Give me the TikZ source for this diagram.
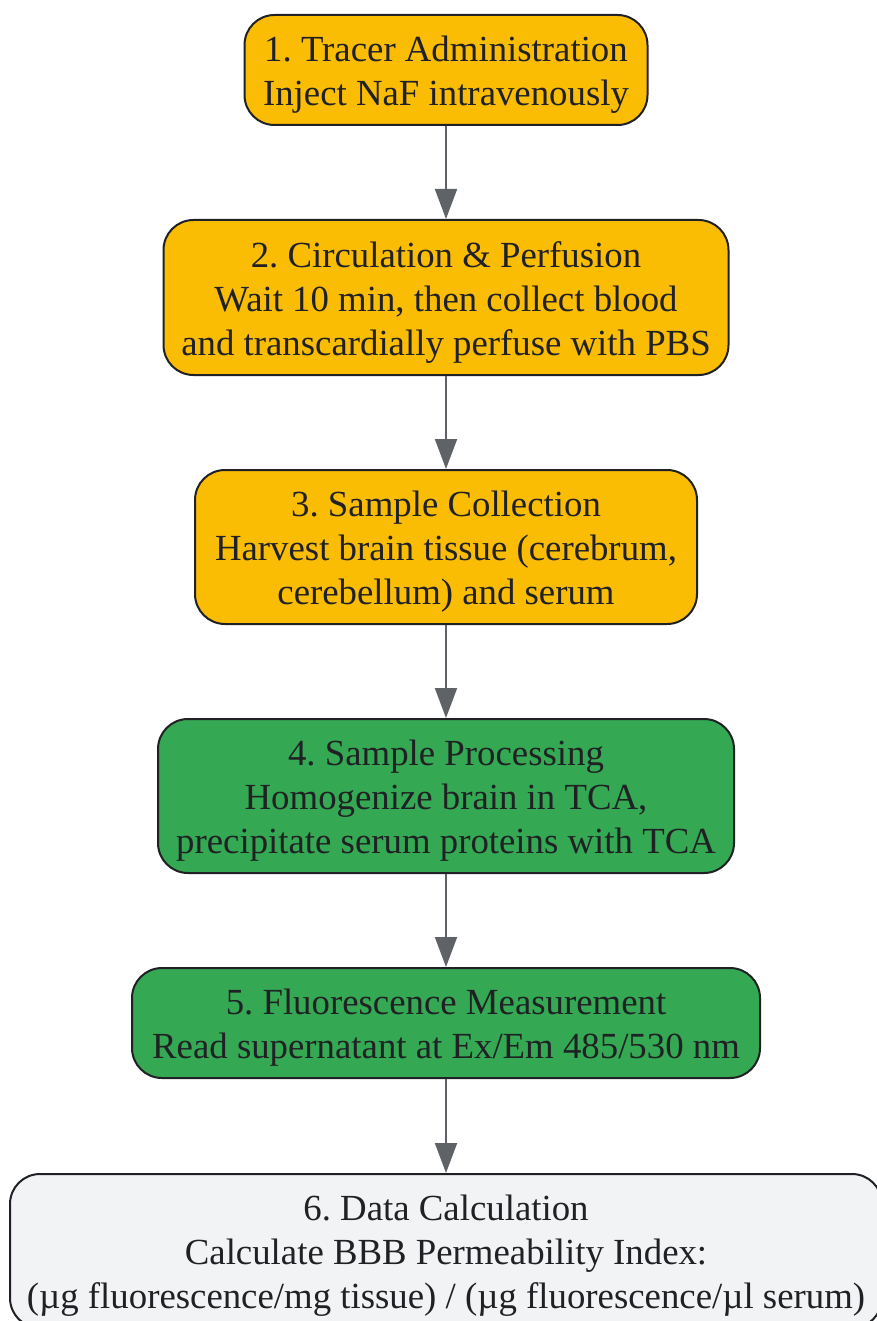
\documentclass[tikz,border=0pt]{standalone}
\usepackage{fontspec}
\setmainfont{Liberation Serif}
\usetikzlibrary{arrows.meta}
\definecolor{cyellow}{HTML}{FBBC04}
\definecolor{cgreen}{HTML}{34A853}
\definecolor{cgray}{HTML}{F1F3F4}
\definecolor{cborder}{HTML}{202124}
\definecolor{carrow}{HTML}{5F6368}
\newcommand{\boxtext}[1]{\raisebox{-5pt}[\height][\depth]{\begin{tabular}{@{}c@{}}#1\end{tabular}}}
\begin{document}
\frenchspacing
\begin{tikzpicture}[x=1pt,y=-1pt,
  stepbox/.style={draw=cborder, line width=2pt, rounded corners=30pt, align=center,
    inner sep=0pt, text=cborder, font=\fontsize{36.8pt}{44pt}\selectfont\frenchspacing},
  flow/.style={draw=carrow, line width=2pt, -{Triangle[length=30pt,width=22pt]}, fill=carrow}
]
\useasboundingbox (0,0) rectangle (877,1321);
\node[stepbox, fill=cyellow, minimum width=403pt, minimum height=110pt] (n1) at (446,70)
  {\boxtext{1. Tracer Administration\\Inject NaF intravenously}};
\node[stepbox, fill=cyellow, minimum width=565pt, minimum height=155pt] (n2) at (446,297.5)
  {\boxtext{2. Circulation \& Perfusion\\Wait 10 min, then collect blood\\and transcardially perfuse with PBS}};
\node[stepbox, fill=cyellow, minimum width=502pt, minimum height=154pt] (n3) at (446,547)
  {\boxtext{3. Sample Collection\\Harvest brain tissue (cerebrum,\\cerebellum) and serum}};
\node[stepbox, fill=cgreen, minimum width=576pt, minimum height=154pt] (n4) at (446,796)
  {\boxtext{4. Sample Processing\\Homogenize brain in TCA,\\precipitate serum proteins with TCA}};
\node[stepbox, fill=cgreen, minimum width=628pt, minimum height=110pt] (n5) at (446,1023)
  {\boxtext{5. Fluorescence Measurement\\Read supernatant at Ex/Em 485/530 nm}};
\node[stepbox, fill=cgray, minimum width=872pt, minimum height=154pt] (n6) at (446,1251)
  {\boxtext{6. Data Calculation\\Calculate BBB Permeability Index:\\(µg fluorescence/mg tissue) / (µg fluorescence/µl serum)}};
\draw[flow] (n1.south) -- (n2.north);
\draw[flow] (n2.south) -- (n3.north);
\draw[flow] (n3.south) -- (n4.north);
\draw[flow] (n4.south) -- (n5.north);
\draw[flow] (n5.south) -- (n6.north);
\end{tikzpicture}
\end{document}
